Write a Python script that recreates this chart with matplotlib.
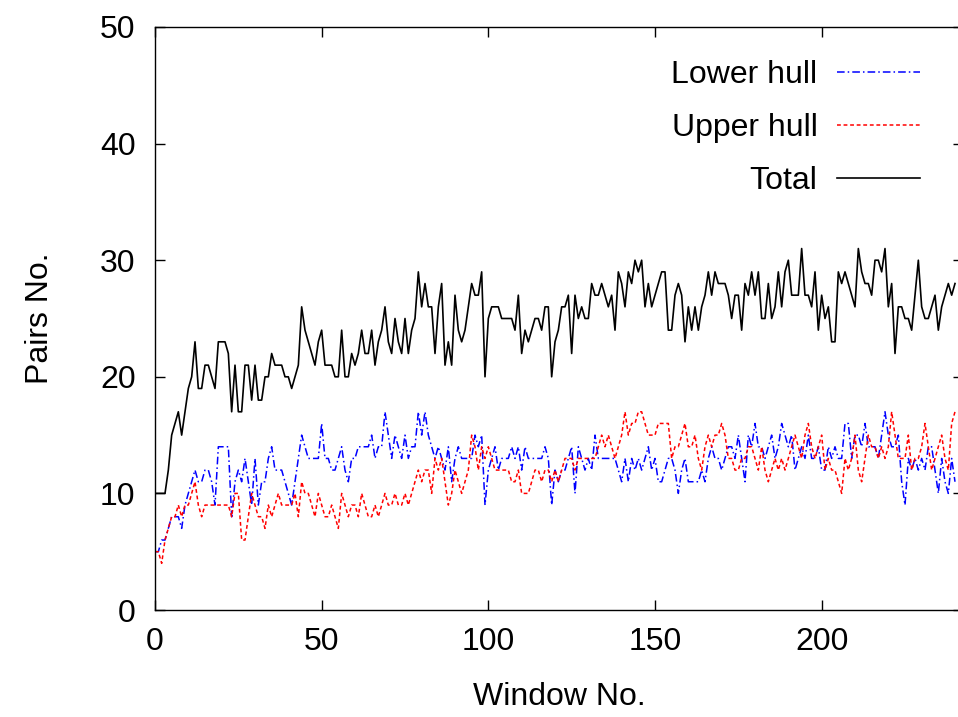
import numpy as np
import matplotlib
matplotlib.use("Agg")
import matplotlib.pyplot as plt

# values, one per window (0..240)
total = [10, 10, 10, 10, 12, 15, 16, 17, 15, 17, 19, 20, 23, 19, 19, 21, 21, 20, 19, 23,
         23, 23, 22, 17, 21, 17, 17, 21, 21, 18, 21, 18, 18, 20, 20, 22, 21, 21, 21, 20,
         20,
         19, 20, 21, 26, 24, 23, 22, 21, 23, 24, 21, 21, 21, 20, 20, 24, 20, 20, 22, 21,
         22, 24, 22, 22, 24, 21, 23, 24, 26, 23, 22, 25, 23, 22, 25, 22, 24, 25, 29, 26,
         28, 26, 26, 22, 26, 28, 21, 23, 21, 27, 24, 23, 24, 26, 28, 27, 27, 29, 20, 25,
         26, 26, 26, 25, 25, 25, 25, 24, 27, 22, 24, 23, 24, 25, 25, 24, 26, 26, 20, 23,
         24, 26, 26, 27, 22, 27, 25, 26, 25, 25, 28, 27, 27, 28, 27, 26, 27, 24, 29, 28,
         26, 29, 28, 30, 29, 30, 26, 28, 26, 27, 28, 29, 29, 24, 24, 27, 28, 27, 23, 26,
         24, 26, 24, 26, 27, 29, 27, 29, 28, 28, 28, 27, 25, 27, 27, 24, 28, 27, 29, 27,
         29, 25, 25, 28, 25, 26, 29, 26, 29, 30, 27, 27, 27, 31, 27, 27, 26, 29, 24, 27,
         25, 26, 23, 23, 29, 28, 29, 28, 27, 26, 31, 29, 28, 28, 27, 30, 30, 29, 31, 26,
         28, 22, 26, 26, 25, 25, 24, 27, 30, 26, 25, 25, 26, 27, 24, 26, 27, 28, 27, 28]

lower = [5, 5, 6, 6, 7, 8, 8, 8, 7, 9, 10, 11, 12, 11, 11, 12, 12, 11, 9, 14,
         14, 14, 14, 8, 11, 12, 11, 13, 11, 9, 13, 9, 11, 11, 13, 14, 12, 12, 12, 11,
         10,
         9, 11, 13, 15, 14, 13, 13, 13, 13, 16, 13, 13, 12, 12, 13, 14, 12, 11, 13, 13,
         14, 14, 14, 14, 15, 13, 14, 14, 17, 15, 13, 15, 14, 13, 15, 13, 14, 14, 17, 15,
         17, 15, 14, 13, 14, 13, 12, 14, 11, 13, 14, 13, 13, 13, 13, 15, 14, 15, 9, 12,
         13, 14, 12, 13, 13, 13, 14, 13, 14, 12, 14, 13, 13, 13, 13, 13, 14, 13, 9, 12,
         11, 12, 12, 13, 14, 10, 14, 13, 12, 13, 12, 15, 13, 13, 13, 13, 13, 13, 12, 11,
         13, 11, 13, 12, 13, 12, 13, 14, 12, 13, 11, 11, 12, 13, 13, 12, 10, 12, 13, 11,
         11, 11, 11, 12, 11, 13, 14, 13, 13, 12, 13, 14, 14, 13, 15, 13, 11, 15, 14, 16,
         14, 14, 13, 14, 15, 13, 14, 16, 15, 14, 15, 12, 13, 14, 13, 15, 13, 13, 14, 12,
         12, 14, 13, 14, 13, 13, 16, 16, 13, 15, 15, 14, 16, 14, 14, 14, 13, 15, 17, 15,
         14, 14, 15, 11, 9, 13, 12, 13, 12, 13, 12, 14, 14, 12, 10, 13, 11, 10, 13, 11]

upper = [5, 5, 4, 6, 7, 8, 8, 9, 8, 9, 9, 10, 11, 9, 8, 9, 9, 9, 9, 9,
         9, 9, 9, 8, 10, 10, 6, 6, 8, 10, 9, 8, 8, 7, 9, 8, 9, 10, 9, 9,
         9,
         9, 10, 8, 11, 10, 10, 9, 8, 10, 9, 8, 8, 9, 8, 7, 10, 9, 8, 9, 9,
         8, 10, 9, 8, 8, 9, 8, 9, 10, 9, 9, 10, 9, 9, 10, 9, 10, 11, 12, 11,
         12, 12, 10, 13, 12, 13, 11, 9, 10, 12, 11, 10, 11, 12, 15, 14, 12, 14, 13, 14,
         13, 12, 12, 12, 12, 12, 11, 11, 12, 10, 10, 10, 11, 12, 12, 11, 12, 12, 11, 12,
         11, 12, 13, 13, 13, 12, 13, 13, 13, 13, 13, 13, 14, 15, 14, 15, 14, 13, 14, 15,
         17, 15, 16, 16, 17, 17, 16, 15, 15, 15, 16, 16, 16, 16, 13, 14, 14, 15, 16, 14,
         14, 15, 13, 12, 14, 15, 14, 15, 15, 16, 15, 13, 13, 12, 12, 13, 13, 14, 14, 13,
         12, 14, 12, 11, 12, 13, 12, 13, 12, 13, 14, 15, 14, 13, 15, 16, 14, 13, 14, 15,
         12, 13, 12, 12, 11, 10, 13, 12, 13, 15, 12, 11, 13, 15, 14, 14, 13, 14, 13, 14,
         17, 15, 13, 13, 13, 15, 12, 13, 13, 14, 16, 14, 12, 13, 14, 15, 13, 12, 16, 17]

windows = np.arange(len(total))

plt.rcParams['font.family'] = ['Liberation Sans', 'DejaVu Sans']
fs = 23

fig = plt.figure(figsize=(9.58, 7.17), dpi=100)
ax = fig.add_axes([155 / 958, 1 - 610 / 717, 808 / 958, (610 - 27) / 717])

ax.plot(windows, lower, color='#0000ff', lw=1.1, ls=(0, (5, 2, 1, 2)),
        label='Lower hull')
ax.plot(windows, upper, color='#ff0000', lw=1.1, ls=(0, (2.5, 1.8)), label='Upper hull')
ax.plot(windows, total, color='black', lw=1.2, label='Total')

ax.set_xlim(0, 242.4)
ax.set_ylim(0, 50)
ax.set_xticks([0, 50, 100, 150, 200])
ax.set_yticks([0, 10, 20, 30, 40, 50])
ax.tick_params(direction='in', length=7, width=1, labelsize=fs,
               top=True, right=True)
ax.tick_params(axis='x', pad=12)
ax.tick_params(axis='y', pad=14)
for s in ax.spines.values():
    s.set_linewidth(1.0)

ax.set_xlabel('Window No.', fontsize=fs, labelpad=18)
ax.set_ylabel('Pairs No.', fontsize=fs, labelpad=32)

ax.legend(loc='upper right', bbox_to_anchor=(0.982, 0.993), frameon=False,
          markerfirst=False, fontsize=fs, handlelength=2.6, handletextpad=0.6,
          labelspacing=0.72)

fig.savefig('out.png', dpi=100)
